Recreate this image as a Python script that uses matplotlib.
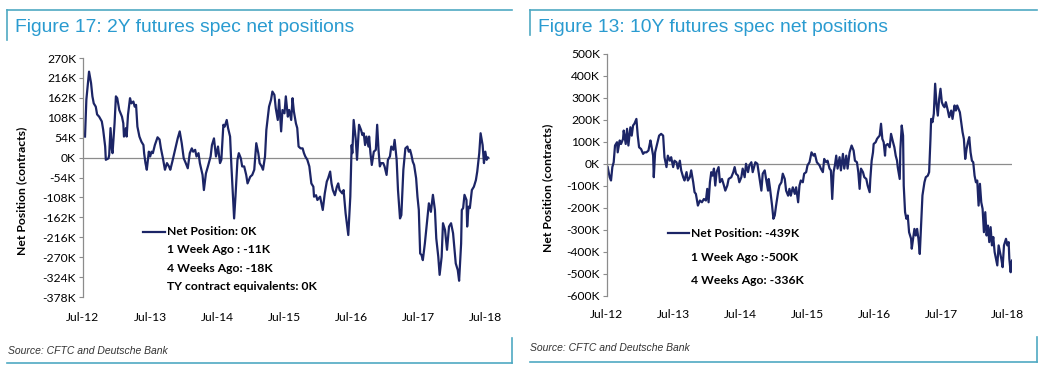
import matplotlib
matplotlib.use('Agg')
import matplotlib.pyplot as plt
from matplotlib.lines import Line2D

# 2Y futures spec net positions (decimal year, K contracts)
dates_2y = [
    2012.53, 2012.55, 2012.59, 2012.62, 2012.64, 2012.66, 2012.69, 2012.71, 2012.74, 2012.78,
    2012.80, 2012.83, 2012.84, 2012.88, 2012.89, 2012.91, 2012.93, 2012.94, 2012.97, 2012.99,
    2013.01, 2013.04, 2013.08, 2013.10, 2013.11, 2013.14, 2013.15, 2013.17, 2013.20, 2013.22,
    2013.25, 2013.27, 2013.29, 2013.31, 2013.34, 2013.37, 2013.40, 2013.41, 2013.43, 2013.45,
    2013.47, 2013.48, 2013.50, 2013.52, 2013.54, 2013.57, 2013.61, 2013.64, 2013.66, 2013.69,
    2013.72, 2013.75, 2013.78, 2013.80, 2013.83, 2013.87, 2013.91, 2013.94, 2013.97, 2014.00,
    2014.03, 2014.06, 2014.09, 2014.12, 2014.14, 2014.17, 2014.19, 2014.22, 2014.24, 2014.28,
    2014.30, 2014.33, 2014.36, 2014.40, 2014.42, 2014.45, 2014.48, 2014.51, 2014.54, 2014.56,
    2014.59, 2014.61, 2014.64, 2014.66, 2014.69, 2014.71, 2014.75, 2014.77, 2014.80, 2014.82,
    2014.85, 2014.87, 2014.90, 2014.93, 2014.95, 2014.99, 2015.02, 2015.05, 2015.08, 2015.11,
    2015.13, 2015.16, 2015.18, 2015.21, 2015.23, 2015.27, 2015.30, 2015.32, 2015.35, 2015.37,
    2015.40, 2015.42, 2015.45, 2015.47, 2015.50, 2015.52, 2015.55, 2015.57, 2015.60, 2015.62,
    2015.64, 2015.67, 2015.69, 2015.71, 2015.74, 2015.77, 2015.79, 2015.81, 2015.84, 2015.87,
    2015.90, 2015.93, 2015.94, 2015.97, 2015.99, 2016.03, 2016.07, 2016.10, 2016.13, 2016.15,
    2016.18, 2016.20, 2016.22, 2016.25, 2016.28, 2016.30, 2016.32, 2016.36, 2016.38, 2016.41,
    2016.44, 2016.45, 2016.48, 2016.50, 2016.51, 2016.53, 2016.56, 2016.58, 2016.61, 2016.64,
    2016.66, 2016.68, 2016.70, 2016.72, 2016.75, 2016.76, 2016.78, 2016.80, 2016.83, 2016.86,
    2016.88, 2016.90, 2016.92, 2016.94, 2016.97, 2016.99, 2017.02, 2017.04, 2017.07, 2017.09,
    2017.12, 2017.14, 2017.17, 2017.19, 2017.22, 2017.24, 2017.27, 2017.30, 2017.33, 2017.35,
    2017.37, 2017.39, 2017.41, 2017.43, 2017.46, 2017.48, 2017.50, 2017.52, 2017.54, 2017.56,
    2017.59, 2017.62, 2017.65, 2017.68, 2017.71, 2017.74, 2017.76, 2017.79, 2017.81, 2017.84,
    2017.86, 2017.89, 2017.92, 2017.95, 2017.98, 2018.01, 2018.05, 2018.08, 2018.10, 2018.13,
    2018.14, 2018.16, 2018.18, 2018.21, 2018.22, 2018.24, 2018.26, 2018.29, 2018.32, 2018.35,
    2018.37, 2018.40, 2018.42, 2018.45, 2018.47, 2018.49, 2018.51, 2018.53,
]
net_2y = [
    57, 157, 233, 202, 166, 147, 138, 117, 111, 98,
    76, 30, -6, -2, 7, 80, 21, 12, 93, 166,
    161, 129, 111, 93, 57, 80, 57, 116, 161, 147,
    152, 138, 143, 84, 57, 43, 34, 12, -15, -33,
    -2, 16, 3, 16, 12, 34, 55, 49, 25, -2,
    -33, -15, -24, -33, -11, 21, 52, 71, 39, -2,
    -15, -29, 12, 25, 16, 21, 3, 12, -15, -47,
    -88, -43, -24, 3, 34, 52, 3, 30, -15, -6,
    89, 84, 102, 80, 57, -24, -165, -106, -6, 12,
    -2, -24, -24, -47, -70, -52, -47, -33, 39, 12,
    -15, -24, -33, 3, 75, 138, 157, 179, 170, 134,
    102, 157, 71, 129, 120, 166, 111, 129, 102, 161,
    125, 93, 80, 30, 25, 25, 12, 3, -6, -24,
    -70, -79, -106, -102, -115, -106, -142, -97, -65, -56,
    -38, -70, -88, -102, -79, -70, -88, -97, -88, -151,
    -196, -210, -106, 34, 12, 102, 52, -6, 89, 75,
    61, 66, 34, 57, 30, 57, 12, -20, 16, 21,
    89, 21, -24, -15, -15, -24, -47, -6, 3, 30,
    21, 48, -6, -88, -165, -156, -33, 25, 30, 16,
    21, 7, -11, -20, -56, -106, -142, -260, -264, -278,
    -233, -178, -124, -147, -101, -142, -219, -269, -318, -269,
    -178, -196, -250, -187, -178, -205, -287, -305, -334, -233,
    -142, -137, -101, -115, -187, -133, -137, -88, -79, -61,
    -38, 12, 66, 34, -15, 16, -6, 0,
]

# 10Y futures spec net positions (decimal year, K contracts)
dates_10y = [
    2012.51, 2012.54, 2012.56, 2012.58, 2012.60, 2012.62, 2012.65, 2012.66, 2012.69, 2012.71,
    2012.74, 2012.75, 2012.78, 2012.80, 2012.82, 2012.85, 2012.87, 2012.89, 2012.91, 2012.94,
    2012.96, 2012.98, 2013.01, 2013.04, 2013.06, 2013.09, 2013.12, 2013.15, 2013.16, 2013.19,
    2013.20, 2013.22, 2013.25, 2013.28, 2013.31, 2013.34, 2013.36, 2013.39, 2013.41, 2013.44,
    2013.46, 2013.49, 2013.51, 2013.54, 2013.56, 2013.59, 2013.61, 2013.64, 2013.66, 2013.69,
    2013.71, 2013.74, 2013.76, 2013.79, 2013.81, 2013.83, 2013.86, 2013.89, 2013.92, 2013.95,
    2013.98, 2014.00, 2014.02, 2014.04, 2014.06, 2014.08, 2014.10, 2014.12, 2014.14, 2014.17,
    2014.19, 2014.22, 2014.25, 2014.27, 2014.30, 2014.32, 2014.36, 2014.39, 2014.41, 2014.43,
    2014.46, 2014.48, 2014.51, 2014.53, 2014.56, 2014.58, 2014.61, 2014.63, 2014.66, 2014.68,
    2014.72, 2014.75, 2014.78, 2014.81, 2014.83, 2014.86, 2014.88, 2014.91, 2014.92, 2014.94,
    2014.97, 2014.99, 2015.01, 2015.03, 2015.06, 2015.08, 2015.11, 2015.13, 2015.16, 2015.18,
    2015.21, 2015.23, 2015.25, 2015.28, 2015.31, 2015.33, 2015.36, 2015.38, 2015.40, 2015.43,
    2015.45, 2015.48, 2015.50, 2015.53, 2015.56, 2015.59, 2015.61, 2015.64, 2015.68, 2015.70,
    2015.73, 2015.75, 2015.78, 2015.80, 2015.83, 2015.85, 2015.87, 2015.89, 2015.91, 2015.93,
    2015.95, 2015.98, 2016.00, 2016.03, 2016.05, 2016.08, 2016.10, 2016.13, 2016.16, 2016.19,
    2016.21, 2016.24, 2016.26, 2016.28, 2016.30, 2016.33, 2016.35, 2016.38, 2016.40, 2016.43,
    2016.44, 2016.46, 2016.48, 2016.49, 2016.52, 2016.54, 2016.56, 2016.58, 2016.60, 2016.62,
    2016.64, 2016.66, 2016.67, 2016.70, 2016.73, 2016.75, 2016.78, 2016.80, 2016.82, 2016.84,
    2016.85, 2016.88, 2016.89, 2016.91, 2016.93, 2016.94, 2016.96, 2016.98, 2017.00, 2017.02,
    2017.05, 2017.06, 2017.08, 2017.10, 2017.12, 2017.14, 2017.16, 2017.18, 2017.20, 2017.22,
    2017.25, 2017.27, 2017.30, 2017.32, 2017.34, 2017.35, 2017.37, 2017.39, 2017.41, 2017.43,
    2017.45, 2017.47, 2017.49, 2017.51, 2017.53, 2017.55, 2017.57, 2017.60, 2017.62, 2017.65,
    2017.67, 2017.70, 2017.72, 2017.74, 2017.76, 2017.78, 2017.80, 2017.82, 2017.84, 2017.86,
    2017.88, 2017.90, 2017.92, 2017.94, 2017.96, 2017.98, 2018.00, 2018.02, 2018.04, 2018.06,
    2018.08, 2018.10, 2018.12, 2018.14, 2018.16, 2018.18, 2018.20, 2018.22, 2018.24, 2018.26,
    2018.28, 2018.30, 2018.32, 2018.34, 2018.36, 2018.38, 2018.40, 2018.42, 2018.44, 2018.47,
    2018.49, 2018.51, 2018.52, 2018.54, 2018.55, 2018.56,
]
net_10y = [
    -14, -60, -75, -14, 8, 84, 99, 53, 107, 91,
    114, 152, 91, 160, 84, 167, 129, 175, 183, 205,
    129, 76, 68, 46, 53, 53, 61, 107, 91, 38,
    -60, 53, 91, 129, 137, 129, 31, -14, 38, 15,
    31, -14, 15, 8, -21, 15, -29, -60, -75, -37,
    -75, -60, -29, -83, -128, -136, -189, -166, -174, -159,
    -166, -113, -174, -83, -37, -53, -21, -98, -37, -14,
    -83, -68, -98, -121, -98, -68, -60, -37, -14, -44,
    -53, -83, -60, -21, -60, 1, -37, -6, 8, -37,
    8, 1, -60, -121, -44, -29, -68, -121, -68, -113,
    -189, -249, -234, -189, -128, -98, -83, -44, -68, -121,
    -144, -113, -144, -106, -136, -106, -174, -98, -75, -83,
    -44, -37, -6, 8, 53, 38, 46, 8, -6, -21,
    -37, 23, 8, 15, -21, -29, -159, -37, -6, 38,
    -21, 31, -29, 46, -21, 38, -21, 53, 84, 61,
    15, 8, -37, -113, -21, -37, -60, -68, -98, -128,
    -68, 15, 53, 91, 99, 114, 122, 129, 183, 114,
    99, 38, 84, 91, 76, 137, 99, 76, 38, 15,
    -14, -68, 68, 175, 129, -98, -219, -249, -234, -310,
    -340, -385, -340, -295, -325, -295, -340, -409, -280, -143,
    -83, -60, -53, -37, 114, 205, 190, 228, 365, 274,
    220, 296, 342, 281, 266, 258, 281, 243, 213, 243,
    205, 266, 243, 266, 251, 235, 190, 145, 114, 23,
    68, 99, 122, 53, 15, 8, -53, -83, -75, -189,
    -90, -174, -204, -310, -219, -325, -280, -355, -287, -370,
    -332, -400, -431, -461, -370, -400, -431, -469, -370, -340,
    -370, -355, -431, -492, -454, -439,
]

year_ticks = [2012.5, 2013.5, 2014.5, 2015.5, 2016.5, 2017.5, 2018.5]
year_labels = ['Jul-12', 'Jul-13', 'Jul-14', 'Jul-15', 'Jul-16', 'Jul-17', 'Jul-18']
yticks_2y = list(range(-378, 271, 54))
yticks_10y = list(range(-600, 501, 100))

legend_2y = ['Net Position: 0K', '1 Week Ago : -11K', '4 Weeks Ago: -18K',
             'TY contract equivalents: 0K']
legend_10y = ['Net Position: -439K', '1 Week Ago :-500K', '4 Weeks Ago: -336K']

W, H = 1050, 369
LINE = '#1c2566'
FRAME = '#4fa9c2'
TITLE = '#2a9bd0'
GREY = '#8c8c8c'
FONT = ['Lato', 'DejaVu Sans']

fig = plt.figure(figsize=(W / 100, H / 100), dpi=100)


def fx(x):
    return x / W


def fy(y):
    return 1 - y / H


def panel(rect, dates, values, yticks, title, legend, frame, lab, leg, tick_pad):
    ax = fig.add_axes(rect)
    ax.plot(dates, values, color=LINE, lw=1.6, solid_joinstyle='round')
    ax.axhline(0, color=GREY, lw=0.9, zorder=0)
    ax.set_xlim(2012.5, 2018.56)
    ax.set_ylim(yticks[0], yticks[-1])
    ax.set_yticks(yticks)
    ax.set_yticklabels([f'{v}K' for v in yticks], family=FONT, fontsize=8.7)
    ax.set_xticks(year_ticks)
    ax.set_xticklabels(year_labels, family=FONT, fontsize=8.7)
    ax.tick_params(axis='x', length=0, pad=tick_pad)
    ax.tick_params(axis='y', length=3, color=GREY, pad=2)
    for s in ['top', 'right', 'bottom']:
        ax.spines[s].set_visible(False)
    ax.spines['left'].set_color(GREY)
    ax.spines['left'].set_linewidth(0.9)

    # legend block
    lx0, lx1, tx, rows = leg
    ax.plot([lx0, lx1], [rows[0], rows[0]], color=LINE, lw=1.6,
            transform=ax.transAxes, clip_on=False)
    for txt, ry in zip(legend, rows):
        ax.text(tx, ry, txt, transform=ax.transAxes, family=FONT,
                fontsize=8.7, fontweight='bold', va='center', ha='left')

    # y label
    fig.text(fx(lab[0]), fy(lab[1]), 'Net Position (contracts)', rotation=90,
             family=FONT, fontsize=8.7, fontweight='bold', ha='center', va='center')

    # frame, title and source
    x0, x1, ytop, ybot, yside_top, yside_bot, tx0, sx, sy = frame
    fig.add_artist(Line2D([fx(x0), fx(x1)], [fy(ytop), fy(ytop)], color=FRAME, lw=1.2))
    fig.add_artist(Line2D([fx(x0), fx(x0)], [fy(ytop), fy(yside_top)], color=FRAME, lw=1.2))
    fig.add_artist(Line2D([fx(x0), fx(x1)], [fy(ybot), fy(ybot)], color=FRAME, lw=1.2))
    fig.add_artist(Line2D([fx(x1), fx(x1)], [fy(yside_bot), fy(ybot)], color=FRAME, lw=1.2))
    fig.text(fx(tx0), fy(27), title, color=TITLE, fontsize=13.9,
             family=['Liberation Sans', 'DejaVu Sans'], va='center', ha='left')
    fig.text(fx(sx), fy(sy), 'Source: CFTC and Deutsche Bank', fontsize=7.5,
             style='italic', color='#333333', family=['Liberation Sans', 'DejaVu Sans'],
             va='center', ha='left')
    return ax


panel([fx(83), fy(297), fx(490) - fx(83), fy(58) - fy(297)],
      dates_2y, net_2y, yticks_2y, 'Figure 17: 2Y futures spec net positions', legend_2y,
      (7, 512, 10, 363, 40, 338, 15, 8, 351), (22, 191),
      (0.147, 0.201, 0.206, [0.272, 0.197, 0.120, 0.046]), 11)

panel([fx(607), fy(296), fx(1012) - fx(607), fy(54) - fy(296)],
      dates_10y, net_10y, yticks_10y, 'Figure 13: 10Y futures spec net positions', legend_10y,
      (530, 1037, 10, 362, 35, 337, 538, 530, 348), (548, 188),
      (0.151, 0.202, 0.207, [0.260, 0.160, 0.062]), 9)

fig.savefig('out.png', dpi=100)
